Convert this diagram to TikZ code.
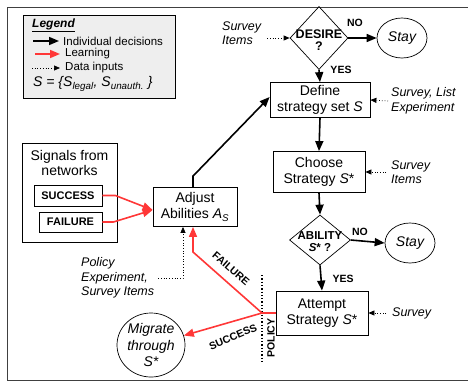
\documentclass[tikz,border=0pt]{standalone}
\usepackage{fontspec}
\setmainfont{Liberation Sans}
\usetikzlibrary{shapes.geometric,arrows.meta}
\definecolor{learnred}{RGB}{255,55,55}
\definecolor{legendgray}{RGB}{238,238,238}

\begin{document}
\begin{tikzpicture}[x=1pt,y=-1pt,
    box/.style={draw, line width=0.8pt, align=center, inner sep=1pt, font=\fontsize{14}{16}\selectfont},
    oval/.style={draw, ellipse, line width=0.7pt, inner sep=0pt, align=center, font=\fontsize{14}{16.5}\selectfont\itshape},
    diam/.style={draw, diamond, line width=0.7pt, inner sep=0pt},
    dlbl/.style={align=center, inner sep=0pt, font=\fontsize{11.5}{12}\selectfont\bfseries},
    sigbox/.style={box, font=\fontsize{11}{12}\selectfont\bfseries},
    src/.style={align=left, anchor=west, inner sep=0pt, font=\fontsize{12.5}{14.5}\selectfont\itshape},
    tag/.style={inner sep=0pt, font=\fontsize{10.5}{12}\selectfont\bfseries},
    legtxt/.style={anchor=west, inner sep=0pt, font=\fontsize{11.5}{13}\selectfont},
    decision/.style={line width=1.6pt, -{Triangle[length=10pt,width=8pt]}},
    learn/.style={learnred, line width=1.6pt, -{Triangle[length=10pt,width=8pt]}},
    datain/.style={dotted, line width=0.7pt, -{Triangle[length=6pt,width=5pt]}}]
    \useasboundingbox (0,0) rectangle (468,383);
    % outer frame
    \draw[black!75, line width=1pt] (468,7) -- (7,7) -- (7,380) -- (468,380);

    % legend
    \node[draw, line width=0.8pt, fill=legendgray, minimum width=152, minimum height=83, anchor=north west] (legend) at (23,15) {};
    \node[anchor=west, inner sep=0pt, font=\fontsize{12}{13}\selectfont\bfseries\itshape] (leghead) at (32,25) {\underline{Legend}};
    \node[legtxt] (lgdec) at (63,41) {Individual decisions};
    \node[legtxt] (lglearn) at (65,54) {Learning};
    \node[legtxt] (lgdata) at (65,68) {Data inputs};
    \node[legtxt, font=\fontsize{14}{15}\selectfont\itshape] (lgset) at (33,84) {S = \{S\textsubscript{legal}, S\textsubscript{unauth.} \}};
    \draw[decision] ([xshift=-30pt]lgdec.west) -- ([xshift=-4pt]lgdec.west);
    \draw[learn] ([xshift=-30pt]lglearn.west) -- ([xshift=-5pt]lglearn.west);
    \draw[datain] ([xshift=-33pt]lgdata.west) -- ([xshift=-5pt]lgdata.west);

    % main chain
    \node[diam, minimum width=58, minimum height=63,
          label={[dlbl, font=\fontsize{12.5}{12}\selectfont\bfseries, yshift=-2pt]center:DESIRE\\?}] (desire) at (319,38) {};
    \node[oval, minimum width=50, minimum height=40] (stay1) at (402,38) {Stay};
    \node[box, minimum width=100, minimum height=35] (define) at (320,100) {Define\\strategy set \textit{S}};
    \node[box, minimum width=92, minimum height=41] (choose) at (319,172) {Choose\\Strategy \textit{S}*};
    \node[diam, minimum width=61, minimum height=50,
          label={[dlbl, yshift=-2pt]center:ABILITY\\\textit{S}* ?}] (ability) at (320,240) {};
    \node[oval, minimum width=50, minimum height=40] (stay2) at (410,243) {Stay};
    \node[box, minimum width=92, minimum height=44] (attempt) at (322,313) {Attempt\\Strategy \textit{S}*};

    % learning side
    \node[box, minimum width=84, minimum height=39] (adjust) at (195,207) {Adjust\\Abilities \textit{A}\textsubscript{\textit{S}}};
    \node[box, minimum width=95, minimum height=99] (signals) at (69.5,192.5) {};
    \node[align=center, inner sep=0pt, font=\fontsize{14}{15.5}\selectfont] (sigtxt) at (69.5,163) {Signals from\\networks};
    \node[sigbox, minimum width=68, minimum height=21] (success) at (68,195.5) {SUCCESS};
    \node[sigbox, minimum width=63, minimum height=20] (failure) at (70.5,222) {FAILURE};
    \node[oval, inner sep=-4pt, minimum width=68, minimum height=64] (migrate) at (151,345) {Migrate\\through\\S*};

    % data inputs
    \node[src] (svy1) at (222,33) {Survey\\Items};
    \node[src] (svy2) at (391,101) {Survey, List\\Experiment};
    \node[src] (svy3) at (391,172) {Survey\\Items};
    \node[src] (svy4) at (392,313) {Survey};
    \node[src] (pol) at (81,278) {Policy\\Experiment,\\Survey Items};

    \draw[datain] ([xshift=6pt]svy1.east |- desire.west) -- (desire.west);
    \draw[datain] ([xshift=-3pt]svy2.west) -- (define.east);
    \draw[datain] ([xshift=-5pt]svy3.west) -- (choose.east);
    \draw[datain] ([xshift=-6pt]svy4.west) -- (attempt.east);
    \draw[datain] ([xshift=4pt]pol.east) -| ([xshift=-12pt]adjust.south);

    % decisions
    \draw[decision] (desire.east) -- (stay1.west);
    \draw[decision] (desire.south) -- (define.north);
    \draw[decision] (define.south) -- (choose.north);
    \draw[decision] (choose.south) -- (ability.north);
    \draw[decision] (ability.east) -- (stay2.west);
    \draw[decision] (ability.south) -- (attempt.north);
    \draw[decision] ([xshift=-2pt]adjust.north) -- ++(0,-11) -- ([yshift=3pt]define.west);

    \node[tag] (no1) at (355,23) {NO};
    \node[tag] (yes1) at (341,70) {YES};
    \node[tag] (no2) at (360,232) {NO};
    \node[tag] (yes2) at (343,279) {YES};

    % policy and learning
    \coordinate (pj) at (262,313);
    \draw[dotted, line width=1.3pt] (262,275) -- (262,362);
    \node[tag, rotate=90] (policy) at (271,338) {POLICY};
    \draw[learnred, line width=1.6pt] (attempt.west) -- (pj);
    \draw[learn] (pj) -- ++(-69,-61) -- ([xshift=-2pt]adjust.south);
    \draw[learn] (pj) -- (migrate);
    \draw[learn] (success.east) -- ++(13,0) -- ([yshift=-3pt]adjust.west);
    \draw[learn] (failure.east) -- ++(11,0) -- ([yshift=-3pt]adjust.west);
    \node[tag, rotate=-41] (failtag) at (231,269) {FAILURE};
    \node[tag, rotate=23] (succtag) at (233,337) {SUCCESS};
\end{tikzpicture}
\end{document}
